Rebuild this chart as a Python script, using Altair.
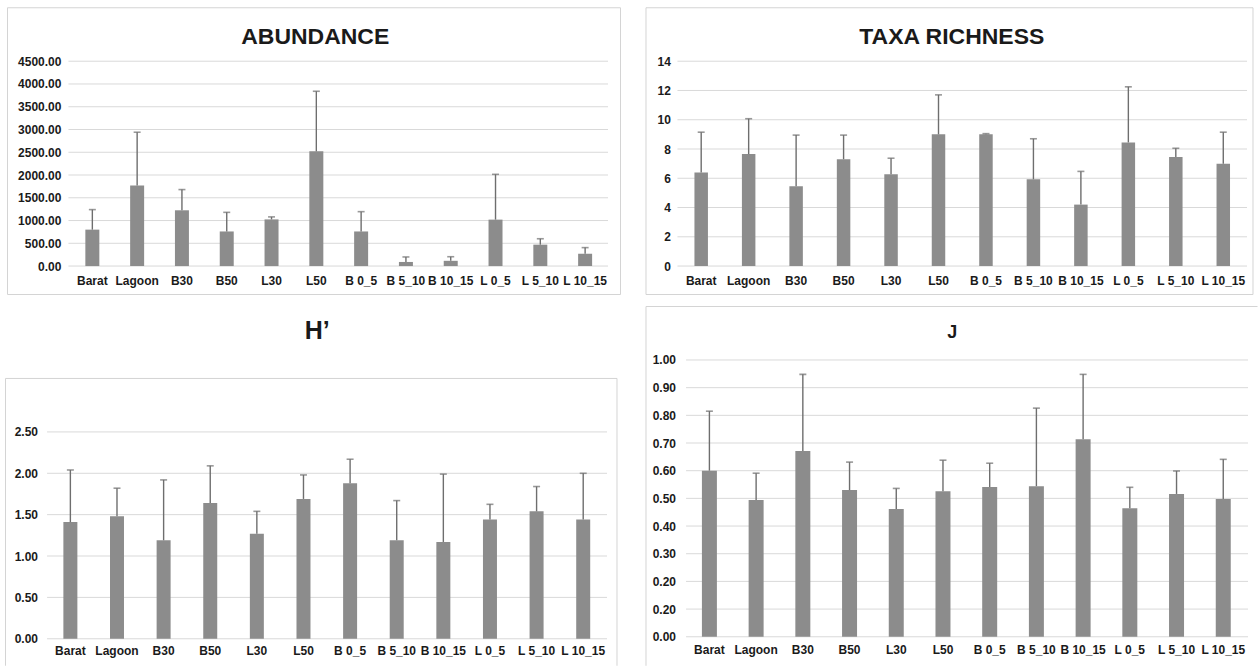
import altair as alt
import pandas as pd

# Sampling stations / depth layers
sites = ["Barat", "Lagoon", "B30", "B50", "L30", "L50",
         "B 0_5", "B 5_10", "B 10_15", "L 0_5", "L 5_10", "L 10_15"]

# Mean and standard deviation per station
abundance_mean = [800, 1770, 1225, 760, 1025, 2520, 760, 90, 115, 1020, 470, 270]
abundance_sd = [440, 1170, 455, 420, 55, 1320, 435, 110, 90, 995, 130, 135]

richness_mean = [6.4, 7.65, 5.45, 7.3, 6.27, 9.0, 9.0, 5.93, 4.2, 8.45, 7.45, 7.0]
richness_sd = [2.75, 2.42, 3.5, 1.65, 1.1, 2.7, 0.05, 2.77, 2.27, 3.8, 0.6, 2.15]

shannon_mean = [1.41, 1.48, 1.19, 1.64, 1.27, 1.69, 1.88, 1.19, 1.17, 1.44, 1.54, 1.44]
shannon_sd = [0.63, 0.34, 0.73, 0.45, 0.27, 0.29, 0.29, 0.48, 0.82, 0.185, 0.30, 0.56]

evenness_mean = [0.600, 0.494, 0.671, 0.530, 0.462, 0.526, 0.541, 0.544, 0.714, 0.464, 0.516, 0.498]
evenness_sd = [0.215, 0.097, 0.277, 0.101, 0.074, 0.112, 0.086, 0.282, 0.234, 0.076, 0.083, 0.143]

# Axis tick values
abundance_ticks = [0, 500, 1000, 1500, 2000, 2500, 3000, 3500, 4000, 4500]
richness_ticks = [0, 2, 4, 6, 8, 10, 12, 14]
shannon_ticks = [0.0, 0.5, 1.0, 1.5, 2.0, 2.5]
evenness_ticks = [0.0, 0.1, 0.2, 0.3, 0.4, 0.5, 0.6, 0.7, 0.8, 0.9, 1.0]

FONT = "Liberation Sans, Arial, Helvetica"
BAR = "#8c8c8c"
ERR = "#6e6e6e"
GRID = "#d9d9d9"
BORDER = "#d4d4d4"
TEXT = "#1a1a1a"

one_row = pd.DataFrame({"k": [0]})

# Layout extents of each grid column / row, relative to the plot origin
COL1_X = (-69.5, 551.5)
COL2_X = (-32.5, 580.5)
ROW1_Y = (-61, 234)
ROW2_Y = (-55, 306)


def extent(xs, ys):
    """Invisible rectangle fixing the space a panel takes in the grid."""
    return alt.Chart(one_row).mark_rect(
        fillOpacity=0, strokeOpacity=0, strokeWidth=0
    ).encode(x=alt.value(xs[0]), x2=alt.value(xs[1]),
             y=alt.value(ys[0]), y2=alt.value(ys[1]))


def box(x1, x2, y1, y2):
    """Light chart-area border."""
    return alt.Chart(one_row).mark_rect(
        fillOpacity=0, stroke=BORDER, strokeWidth=1
    ).encode(x=alt.value(x1), x2=alt.value(x2), y=alt.value(y1), y2=alt.value(y2))


def edge(x1, x2, y1, y2):
    return alt.Chart(one_row).mark_rule(color=BORDER, strokeWidth=1).encode(
        x=alt.value(x1), x2=alt.value(x2), y=alt.value(y1), y2=alt.value(y2))


def heading(text, size, cx, baseline_y):
    """Panel heading, centred over the chart area."""
    return alt.Chart(one_row).mark_text(
        font=FONT, fontSize=size, fontWeight="bold", color=TEXT,
        align="center", baseline="alphabetic",
    ).encode(x=alt.value(cx), y=alt.value(baseline_y), text=alt.value(text))


def panel(means, sds, ticks, top, y_pad, width, height, x_range, grid_x,
          bar_size, label_pad_x, decorations, fmt=None, expr=None):
    df = pd.DataFrame({"site": sites, "mean": means, "sd": sds})
    base = alt.Chart(df).transform_calculate(upper="datum.mean + datum.sd")

    axis_opts = dict(values=ticks, grid=False, domain=False, ticks=False,
                     tickSize=0, labelPadding=y_pad, labelOverlap=False, title="")
    if fmt is not None:
        axis_opts["format"] = fmt
    if expr is not None:
        axis_opts["labelExpr"] = expr
    y_axis = alt.Axis(**axis_opts)
    yscale = alt.Scale(domain=[0, top], nice=False, zero=True)

    x_axis = alt.Axis(labelAngle=0, grid=False, domain=False, ticks=False,
                      tickSize=0, labelPadding=label_pad_x, labelOverlap=False,
                      title="")
    x = alt.X("site:N", sort=sites, axis=x_axis,
              scale=alt.Scale(paddingInner=0, paddingOuter=0, range=x_range))

    # horizontal gridlines at the tick values
    grid = alt.Chart(pd.DataFrame({"v": ticks})).mark_rule(
        color=GRID, strokeWidth=1
    ).encode(
        y=alt.Y("v:Q", scale=yscale, axis=y_axis),
        x=alt.value(grid_x[0]), x2=alt.value(grid_x[1]),
    )
    bars = base.mark_bar(size=bar_size, color=BAR).encode(
        x=x,
        y=alt.Y("mean:Q", scale=yscale, axis=y_axis),
    )
    err = base.mark_rule(color=ERR, strokeWidth=1.4).encode(
        x=x,
        y=alt.Y("mean:Q", scale=yscale, axis=y_axis),
        y2="upper:Q",
    )
    cap = base.mark_tick(color=ERR, size=7, thickness=1.6).encode(
        x=x,
        y=alt.Y("upper:Q", scale=yscale, axis=y_axis),
    )
    return alt.layer(*decorations, grid, bars, err, cap).properties(
        width=width, height=height)


abundance = panel(
    abundance_mean, abundance_sd, abundance_ticks, 4500, 9,
    538, 205, [0, 538], (-1.5, 538.5), 14, 9,
    [extent(COL1_X, ROW1_Y), box(-62.5, 551, -53.5, 233.5),
     heading("ABUNDANCE", 23, 245.5, -17)],
    fmt=".2f",
)

richness = panel(
    richness_mean, richness_sd, richness_ticks, 14, 7,
    570, 205, [0, 570], (0, 570), 13.5, 9,
    [extent(COL2_X, ROW1_Y), box(-31.5, 576, -53.5, 233.5),
     heading("TAXA RICHNESS", 23, 274.5, -17)],
    fmt="d",
)

# chart area starts lower than its neighbour: the value axis reaches 2.5 at
# 207 px above the baseline, leaving empty space up to the shared row top
shannon = panel(
    shannon_mean, shannon_sd, shannon_ticks, 2.5 * 279 / 207, 32.5,
    538, 279, [-22.9, 537], (-22.9, 537.5), 14, 7,
    [extent(COL1_X, ROW2_Y),
     edge(-64.5, 547.5, 18.5, 18.5), edge(-64.5, -64.5, 18.5, 306),
     edge(547.5, 547.5, 18.5, 306),
     heading("H\u2019", 25, 247.5, -21)],
    fmt=".2f",
)

evenness = panel(
    evenness_mean, evenness_sd, evenness_ticks, 1.0, 2,
    570, 277, [8.6, 569.6], (8.6, 571), 15, 8,
    [extent(COL2_X, ROW2_Y),
     edge(-31.5, 580.5, -53.5, -53.5), edge(-31.5, -31.5, -53.5, 306),
     heading("J", 18, 275, -22)],
    expr="datum.value == 0.1 ? '0.20' : format(datum.value, '.2f')",
)

chart = alt.concat(
    abundance, richness, shannon, evenness,
    columns=2,
    spacing={"row": 10, "column": 15},
).properties(
    padding={"left": 0, "top": 0, "right": 0, "bottom": 0},
    background="white",
).configure_view(
    strokeOpacity=0,
).configure_axis(
    labelFont=FONT,
    labelFontSize=12,
    labelFontWeight="bold",
    labelColor=TEXT,
)

chart.save("out.html", embed_options={"renderer": "svg", "actions": False})
